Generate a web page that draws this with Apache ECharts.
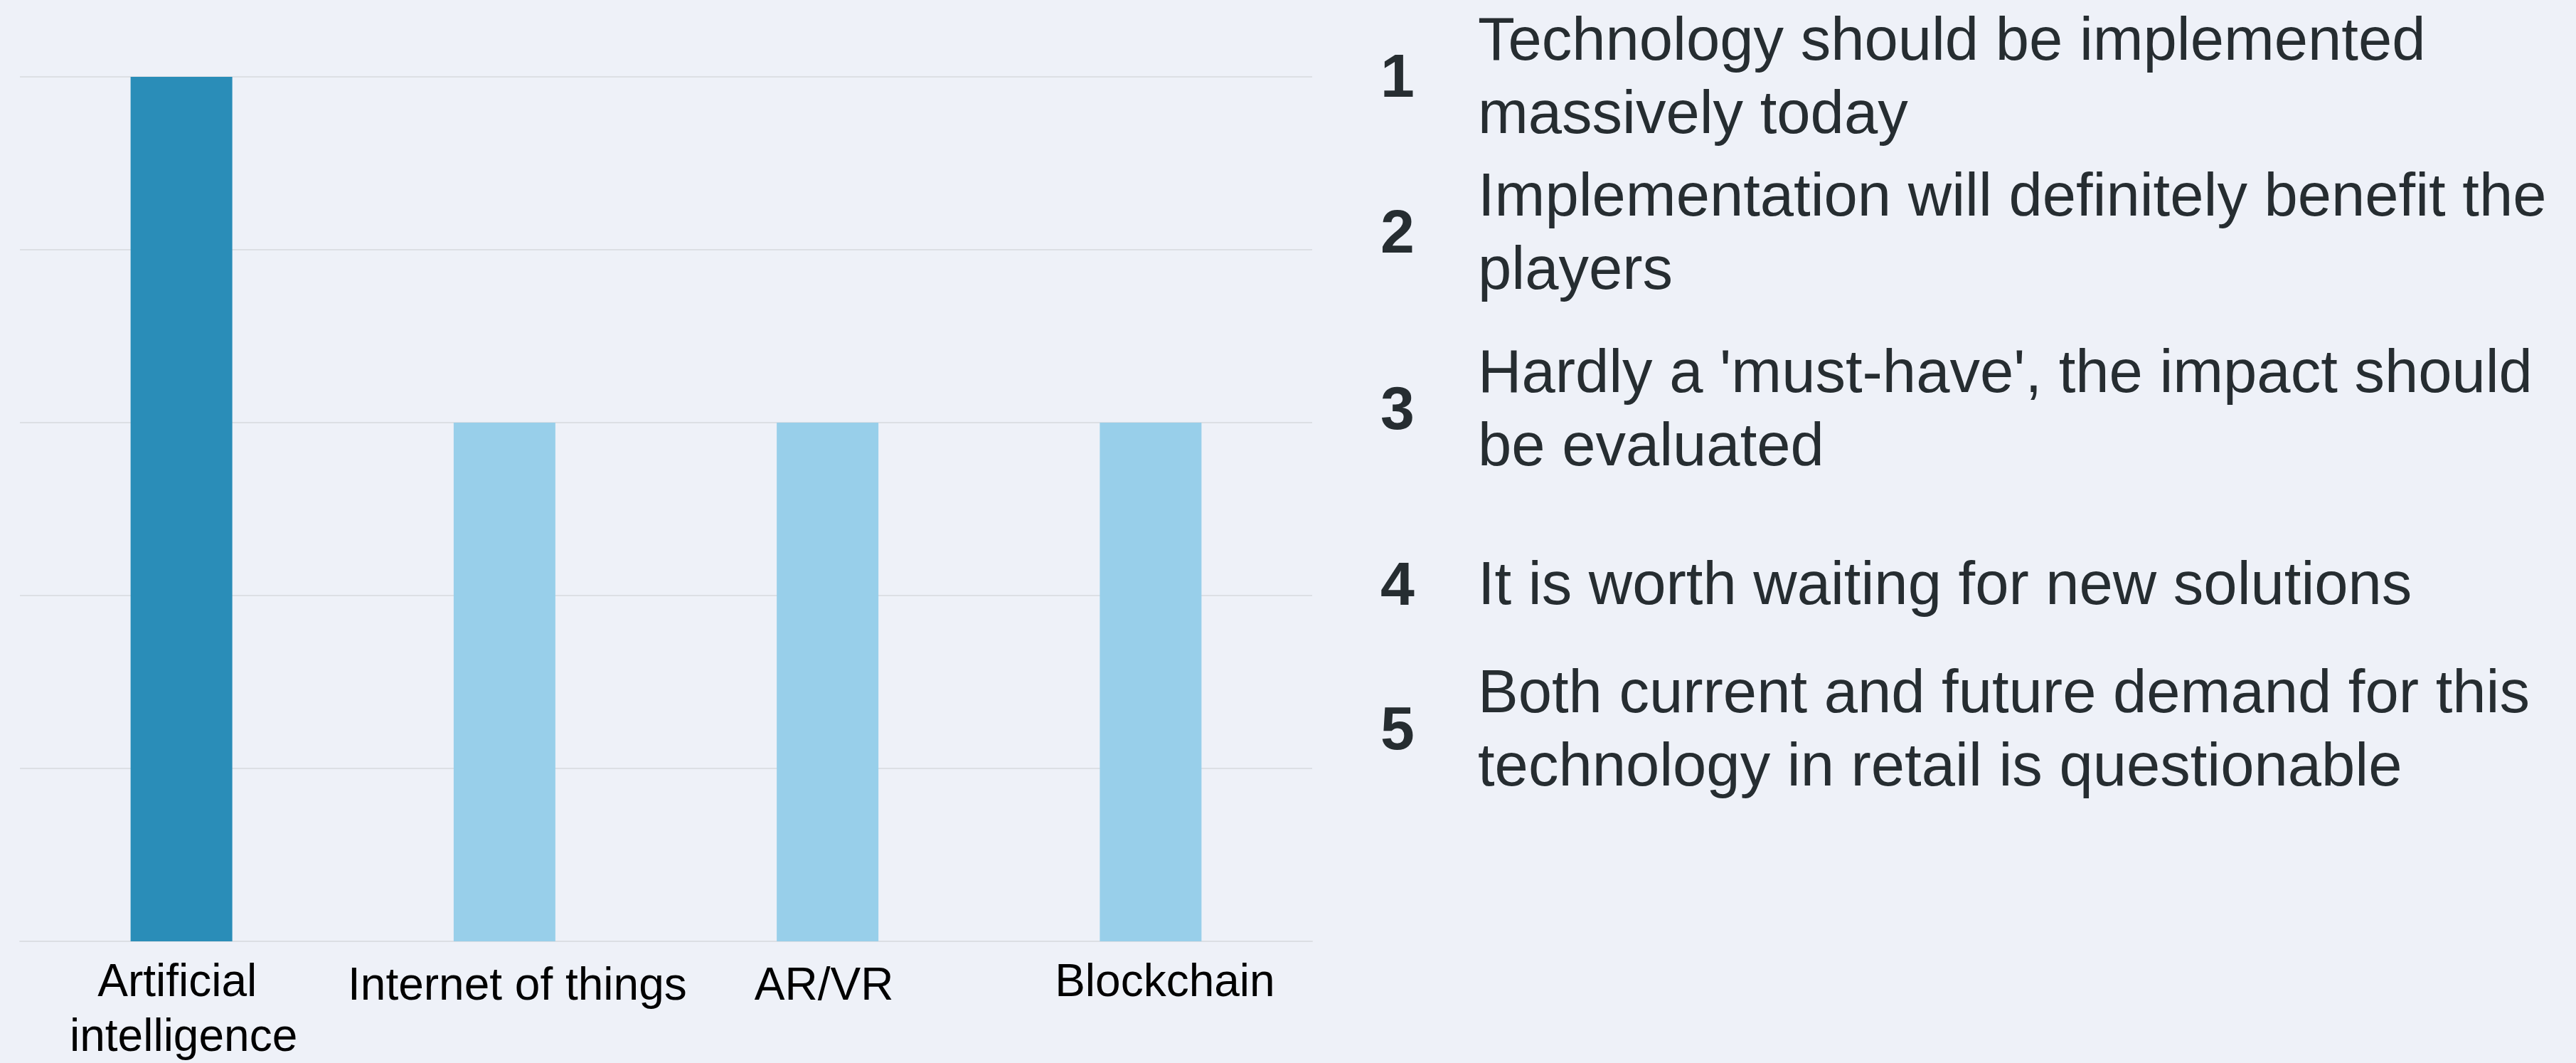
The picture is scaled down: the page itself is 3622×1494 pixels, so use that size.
<!DOCTYPE html>
<html>
<head>
<meta charset="utf-8">
<script src="https://cdn.jsdelivr.net/npm/echarts@6/dist/echarts.min.js"></script>
<style>
  html, body { margin: 0; padding: 0; background: #eef1f8; }
  #main { width: 3622px; height: 1494px; }
</style>
</head>
<body>
<div id="main"></div>
<script>
// data
var categories = ['Artificial intelligence', 'Internet of things', 'AR/VR', 'Blockchain'];
var values = [5, 3, 3, 3];
var barColors = ['#2a8db8', '#98cfea', '#98cfea', '#98cfea'];

var legendNumbers = ['1', '2', '3', '4', '5'];
var legendTexts = [
  'Technology should be implemented\nmassively today',
  'Implementation will definitely benefit the\nplayers',
  "Hardly a 'must-have', the impact should\nbe evaluated",
  'It is worth waiting for new solutions',
  'Both current and future demand for this\ntechnology in retail is questionable'
];
// vertical centre of each legend row
var legendY = [112, 331, 579, 826, 1029];
// small nudges of the axis labels [dx, dy]
var labelNudge = [[3, 0], [18, 5], [-5, 5], [20, 0]];

var myChart = echarts.init(document.getElementById('main'));

var graphics = [];
legendNumbers.forEach(function (n, i) {
  graphics.push({
    type: 'text',
    x: 1965,
    y: legendY[i],
    style: {
      text: n,
      font: 'bold 86px "Liberation Sans", Arial, sans-serif',
      fill: '#262d31',
      align: 'center',
      verticalAlign: 'middle'
    }
  });
  graphics.push({
    type: 'text',
    x: 2078,
    y: legendY[i],
    style: {
      text: legendTexts[i],
      font: '85px "Liberation Sans", Arial, sans-serif',
      lineHeight: 102.5,
      fill: '#262d31',
      align: 'left',
      verticalAlign: 'middle'
    }
  });
});

var option = {
  backgroundColor: '#eef1f8',
  animation: false,
  grid: { left: 28, right: 1777, top: 108, bottom: 171, outerBoundsMode: 'none', containLabel: false },
  xAxis: {
    type: 'category',
    data: categories.map(function (c, i) {
      var dx = labelNudge[i][0], dy = labelNudge[i][1];
      return {
        value: c,
        textStyle: { padding: [dy, dx < 0 ? -2 * dx : 0, 0, dx > 0 ? 2 * dx : 0] }
      };
    }),
    axisLine: { show: true, lineStyle: { color: '#dcdfe4', width: 2 } },
    axisTick: { show: false },
    axisLabel: {
      color: '#000',
      fontFamily: '"Liberation Sans", Arial, sans-serif',
      fontSize: 64,
      lineHeight: 77,
      margin: 21,
      width: 500,
      overflow: 'break',
      interval: 0
    }
  },
  yAxis: {
    type: 'value',
    min: 0,
    max: 5,
    interval: 1,
    axisLabel: { show: false },
    axisLine: { show: false },
    axisTick: { show: false },
    splitLine: { lineStyle: { color: '#dcdfe4', width: 2 } }
  },
  graphic: graphics,
  series: [{
    type: 'bar',
    barWidth: 143,
    data: values.map(function (v, i) {
      return { value: v, itemStyle: { color: barColors[i] } };
    })
  }]
};

myChart.setOption(option);
</script>
</body>
</html>
